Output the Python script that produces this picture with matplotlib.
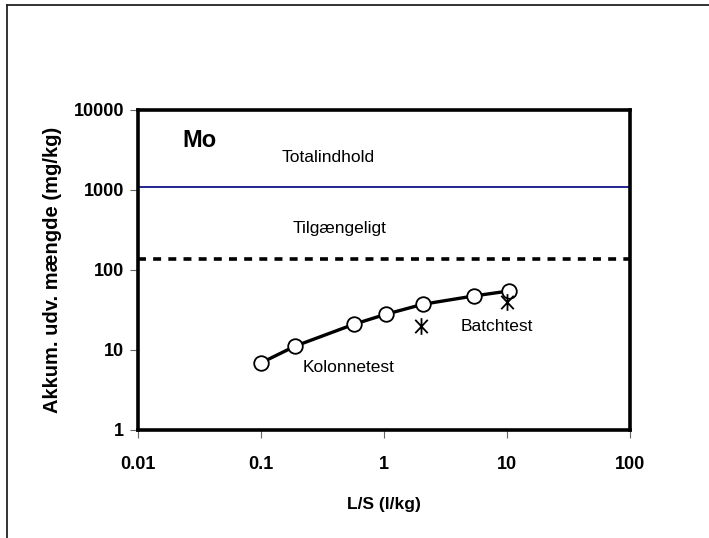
import matplotlib
matplotlib.use("Agg")
import matplotlib.pyplot as plt
from matplotlib.lines import Line2D
from matplotlib.path import Path

plt.rcParams['font.family'] = ['Liberation Sans', 'DejaVu Sans']

# Data
kolonne_ls = [0.1, 0.19, 0.57, 1.03, 2.07, 5.35, 10.3]
kolonne_mg = [6.9, 11.2, 21.0, 27.9, 37.3, 47.3, 54.6]
batch_ls = [2.0, 10.0]
batch_mg = [20.0, 40.0]
total_content = 1080
available = 138
x_ticks = [0.01, 0.1, 1, 10, 100]
x_labels = ['0.01', '0.1', '1', '10', '100']
y_ticks = [1, 10, 100, 1000, 10000]
y_labels = ['1', '10', '100', '1000', '10000']

# Excel-style asterisk marker: X with a vertical bar
star = Path([(0, -1), (0, 1), (-0.75, -0.8), (0.75, 0.8), (-0.75, 0.8), (0.75, -0.8)],
            [Path.MOVETO, Path.LINETO, Path.MOVETO, Path.LINETO, Path.MOVETO, Path.LINETO])

fig = plt.figure(figsize=(7.09, 5.38), dpi=100)
ax = fig.add_axes([138/709, 108/538, 492/709, 320/538])

ax.set_xscale('log')
ax.set_yscale('log')
ax.set_xlim(0.01, 100)
ax.set_ylim(1, 10000)

ax.axhline(total_content, color='#000080', lw=1.2, zorder=2)
ax.axhline(available, color='black', lw=2.6, dashes=(2.2, 2.0), zorder=2)

ax.plot(kolonne_ls, kolonne_mg, color='black', lw=2.4, marker='o', ms=10.5,
        mfc='white', mec='black', mew=1.3, zorder=3)
ax.plot(batch_ls, batch_mg, ls='none', marker=star, ms=12, fillstyle='none',
        mec='black', mew=1.3, zorder=4)

ax.set_xticks(x_ticks)
ax.set_xticklabels(x_labels)
ax.set_yticks(y_ticks)
ax.set_yticklabels(y_labels)
ax.minorticks_off()
ax.tick_params(axis='both', direction='out', length=6, width=0.8, color='#666666',
               labelsize=13, pad=13)
ax.tick_params(axis='y', pad=4)
for lab in ax.get_xticklabels() + ax.get_yticklabels():
    lab.set_fontweight('bold')
for s in ax.spines.values():
    s.set_linewidth(2.6)
    s.set_color('black')

ax.set_xlabel('L/S (l/kg)', fontsize=12.5, fontweight='bold', labelpad=17)
ax.set_ylabel('Akkum. udv. mængde (mg/kg)', fontsize=14.5, fontweight='bold', labelpad=8)

ax.text(0.124, 0.906, 'Mo', transform=ax.transAxes, fontsize=17, fontweight='bold',
        ha='center', va='center')
ax.text(0.386, 0.853, 'Totalindhold', transform=ax.transAxes, fontsize=12.5,
        ha='center', va='center')
ax.text(0.409, 0.631, 'Tilgængeligt', transform=ax.transAxes, fontsize=12.5,
        ha='center', va='center')
ax.text(0.427, 0.194, 'Kolonnetest', transform=ax.transAxes, fontsize=12.5,
        ha='center', va='center')
ax.text(0.730, 0.322, 'Batchtest', transform=ax.transAxes, fontsize=12.5,
        ha='center', va='center')

# outer chart frame (top and left visible)
fig.add_artist(Line2D([7/709, 1.0], [1 - 5/538, 1 - 5/538], transform=fig.transFigure,
                      color='#222222', lw=1.3))
fig.add_artist(Line2D([7/709, 7/709], [0.0, 1 - 5/538], transform=fig.transFigure,
                      color='#222222', lw=1.3))

fig.savefig('out.png', dpi=100)
